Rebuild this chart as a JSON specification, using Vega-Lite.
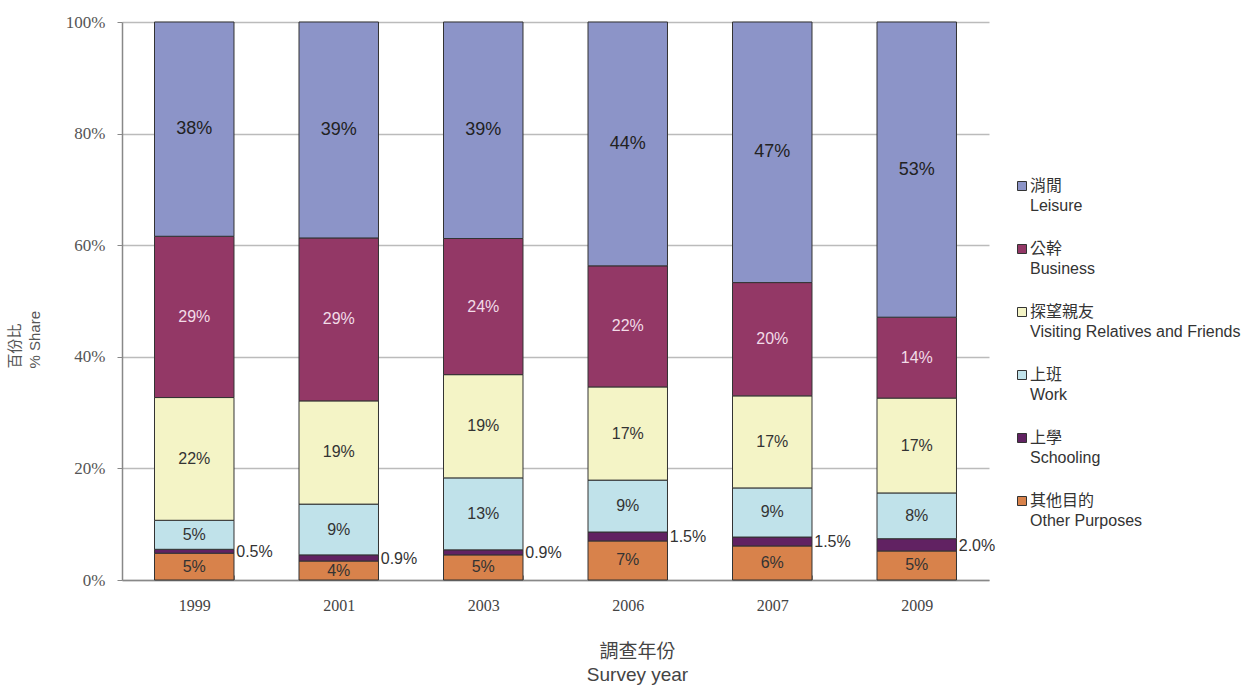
{
  "$schema": "https://vega.github.io/schema/vega-lite/v6.json",
  "autosize": {"type": "none"},
  "padding": {"left": 122, "top": 22, "right": 257, "bottom": 106},
  "width": 867,
  "height": 558,
  "background": "white",
  "config": {"view": {"stroke": null}},
  "data": {"values": [
    {"year": "1999", "purpose": "其他目的|Other Purposes", "order": 1, "value": 4.8, "label": "5%"},
    {"year": "1999", "purpose": "上學|Schooling", "order": 2, "value": 0.7, "label": "0.5%"},
    {"year": "1999", "purpose": "上班|Work", "order": 3, "value": 5.2, "label": "5%"},
    {"year": "1999", "purpose": "探望親友|Visiting Relatives and Friends", "order": 4, "value": 22.0, "label": "22%"},
    {"year": "1999", "purpose": "公幹|Business", "order": 5, "value": 28.9, "label": "29%"},
    {"year": "1999", "purpose": "消閒|Leisure", "order": 6, "value": 38.4, "label": "38%"},
    {"year": "2001", "purpose": "其他目的|Other Purposes", "order": 1, "value": 3.4, "label": "4%"},
    {"year": "2001", "purpose": "上學|Schooling", "order": 2, "value": 1.1, "label": "0.9%"},
    {"year": "2001", "purpose": "上班|Work", "order": 3, "value": 9.1, "label": "9%"},
    {"year": "2001", "purpose": "探望親友|Visiting Relatives and Friends", "order": 4, "value": 18.5, "label": "19%"},
    {"year": "2001", "purpose": "公幹|Business", "order": 5, "value": 29.2, "label": "29%"},
    {"year": "2001", "purpose": "消閒|Leisure", "order": 6, "value": 38.7, "label": "39%"},
    {"year": "2003", "purpose": "其他目的|Other Purposes", "order": 1, "value": 4.5, "label": "5%"},
    {"year": "2003", "purpose": "上學|Schooling", "order": 2, "value": 0.9, "label": "0.9%"},
    {"year": "2003", "purpose": "上班|Work", "order": 3, "value": 12.9, "label": "13%"},
    {"year": "2003", "purpose": "探望親友|Visiting Relatives and Friends", "order": 4, "value": 18.5, "label": "19%"},
    {"year": "2003", "purpose": "公幹|Business", "order": 5, "value": 24.4, "label": "24%"},
    {"year": "2003", "purpose": "消閒|Leisure", "order": 6, "value": 38.8, "label": "39%"},
    {"year": "2006", "purpose": "其他目的|Other Purposes", "order": 1, "value": 7.0, "label": "7%"},
    {"year": "2006", "purpose": "上學|Schooling", "order": 2, "value": 1.6, "label": "1.5%"},
    {"year": "2006", "purpose": "上班|Work", "order": 3, "value": 9.3, "label": "9%"},
    {"year": "2006", "purpose": "探望親友|Visiting Relatives and Friends", "order": 4, "value": 16.7, "label": "17%"},
    {"year": "2006", "purpose": "公幹|Business", "order": 5, "value": 21.7, "label": "22%"},
    {"year": "2006", "purpose": "消閒|Leisure", "order": 6, "value": 43.7, "label": "44%"},
    {"year": "2007", "purpose": "其他目的|Other Purposes", "order": 1, "value": 6.1, "label": "6%"},
    {"year": "2007", "purpose": "上學|Schooling", "order": 2, "value": 1.6, "label": "1.5%"},
    {"year": "2007", "purpose": "上班|Work", "order": 3, "value": 8.8, "label": "9%"},
    {"year": "2007", "purpose": "探望親友|Visiting Relatives and Friends", "order": 4, "value": 16.5, "label": "17%"},
    {"year": "2007", "purpose": "公幹|Business", "order": 5, "value": 20.3, "label": "20%"},
    {"year": "2007", "purpose": "消閒|Leisure", "order": 6, "value": 46.7, "label": "47%"},
    {"year": "2009", "purpose": "其他目的|Other Purposes", "order": 1, "value": 5.2, "label": "5%"},
    {"year": "2009", "purpose": "上學|Schooling", "order": 2, "value": 2.2, "label": "2.0%"},
    {"year": "2009", "purpose": "上班|Work", "order": 3, "value": 8.2, "label": "8%"},
    {"year": "2009", "purpose": "探望親友|Visiting Relatives and Friends", "order": 4, "value": 17.0, "label": "17%"},
    {"year": "2009", "purpose": "公幹|Business", "order": 5, "value": 14.5, "label": "14%"},
    {"year": "2009", "purpose": "消閒|Leisure", "order": 6, "value": 52.9, "label": "53%"}
  ]},
  "transform": [
    {"stack": "value", "groupby": ["year"], "sort": [{"field": "order", "order": "ascending"}], "as": ["v0", "v1"]},
    {"calculate": "(datum.v0 + datum.v1) / 2", "as": "mid"}
  ],
  "encoding": {
    "x": {
      "field": "year", "type": "ordinal",
      "scale": {"paddingInner": 0.45, "paddingOuter": 0.225},
      "axis": {
        "labelAngle": 0, "labelFont": "Liberation Serif", "labelFontSize": 16, "labelColor": "#444",
        "labelPadding": 22, "tickBand": "extent", "tickSize": -5, "tickColor": "#888",
        "domainColor": "#888", "domainWidth": 1.5,
        "title": ["調查年份", "Survey year"], "titleFont": "Liberation Sans, Noto Sans CJK TC",
        "titleFontSize": 19, "titleFontWeight": "normal", "titleColor": "#444", "titleLineHeight": 23,
        "titleX": 515, "titleY": 62, "titleBaseline": "top", "titleAnchor": "start", "titleAlign": "center"
      }
    }
  },
  "layer": [
    {
      "mark": {"type": "bar", "stroke": "#333", "strokeWidth": 1},
      "encoding": {
        "y": {
          "field": "v0", "type": "quantitative",
          "scale": {"domain": [0, 100], "nice": false},
          "axis": {
            "values": [0, 20, 40, 60, 80, 100], "labelExpr": "datum.value + '%'",
            "labelFont": "Liberation Serif", "labelFontSize": 17, "labelColor": "#555", "labelPadding": 12,
            "tickSize": 5, "tickColor": "#888", "domainColor": "#888", "domainWidth": 1.5,
            "grid": true, "gridColor": "#bbb", "gridWidth": 1.5,
            "title": ["百份比", "% Share"], "titleFont": "Liberation Sans, Noto Sans CJK TC",
            "titleFontSize": 15, "titleFontWeight": "normal", "titleColor": "#555", "titleLineHeight": 20,
            "titleAngle": -90, "titleAlign": "left", "titleBaseline": "top", "titleAnchor": "start",
            "titleX": -115, "titleY": 346
          }
        },
        "y2": {"field": "v1"},
        "color": {
          "field": "purpose", "type": "nominal",
          "scale": {
            "domain": ["消閒|Leisure", "公幹|Business", "探望親友|Visiting Relatives and Friends", "上班|Work", "上學|Schooling", "其他目的|Other Purposes"],
            "range": ["#8c94c8", "#933866", "#f4f4c6", "#c0e2ea", "#612262", "#d8824b"]
          },
          "legend": {
            "orient": "none", "legendX": 892, "legendY": 156, "title": null,
            "labelExpr": "split(datum.label, '|')", "labelFont": "Liberation Sans, Noto Sans CJK TC",
            "labelFontSize": 16, "labelColor": "#333", "labelBaseline": "alphabetic",
            "labelLimit": 300, "labelOffset": 0,
            "symbolType": "square", "symbolSize": 81, "symbolStrokeColor": "#333", "symbolStrokeWidth": 1,
            "rowPadding": 27, "padding": 0,
            "encode": {"labels": {"update": {"lineHeight": {"value": 20}, "dy": {"value": 5}}}}
          }
        }
      }
    },
    {
      "transform": [{"filter": "datum.order == 6"}],
      "mark": {"type": "text", "font": "Liberation Sans", "fontSize": 18, "color": "#222"},
      "encoding": {"y": {"field": "mid", "type": "quantitative"}, "text": {"field": "label"}}
    },
    {
      "transform": [{"filter": "datum.order == 5"}],
      "mark": {"type": "text", "font": "Liberation Sans", "fontSize": 16, "color": "#f2dce8"},
      "encoding": {"y": {"field": "mid", "type": "quantitative"}, "text": {"field": "label"}}
    },
    {
      "transform": [{"filter": "datum.order == 1 || datum.order == 3 || datum.order == 4"}],
      "mark": {"type": "text", "font": "Liberation Sans", "fontSize": 16, "color": "#333"},
      "encoding": {"y": {"field": "mid", "type": "quantitative"}, "text": {"field": "label"}}
    },
    {
      "transform": [{"filter": "datum.order == 2"}],
      "mark": {"type": "text", "font": "Liberation Sans", "fontSize": 16, "color": "#333", "align": "left", "dx": 42, "dy": 1},
      "encoding": {"y": {"field": "mid", "type": "quantitative"}, "text": {"field": "label"}}
    }
  ]
}
